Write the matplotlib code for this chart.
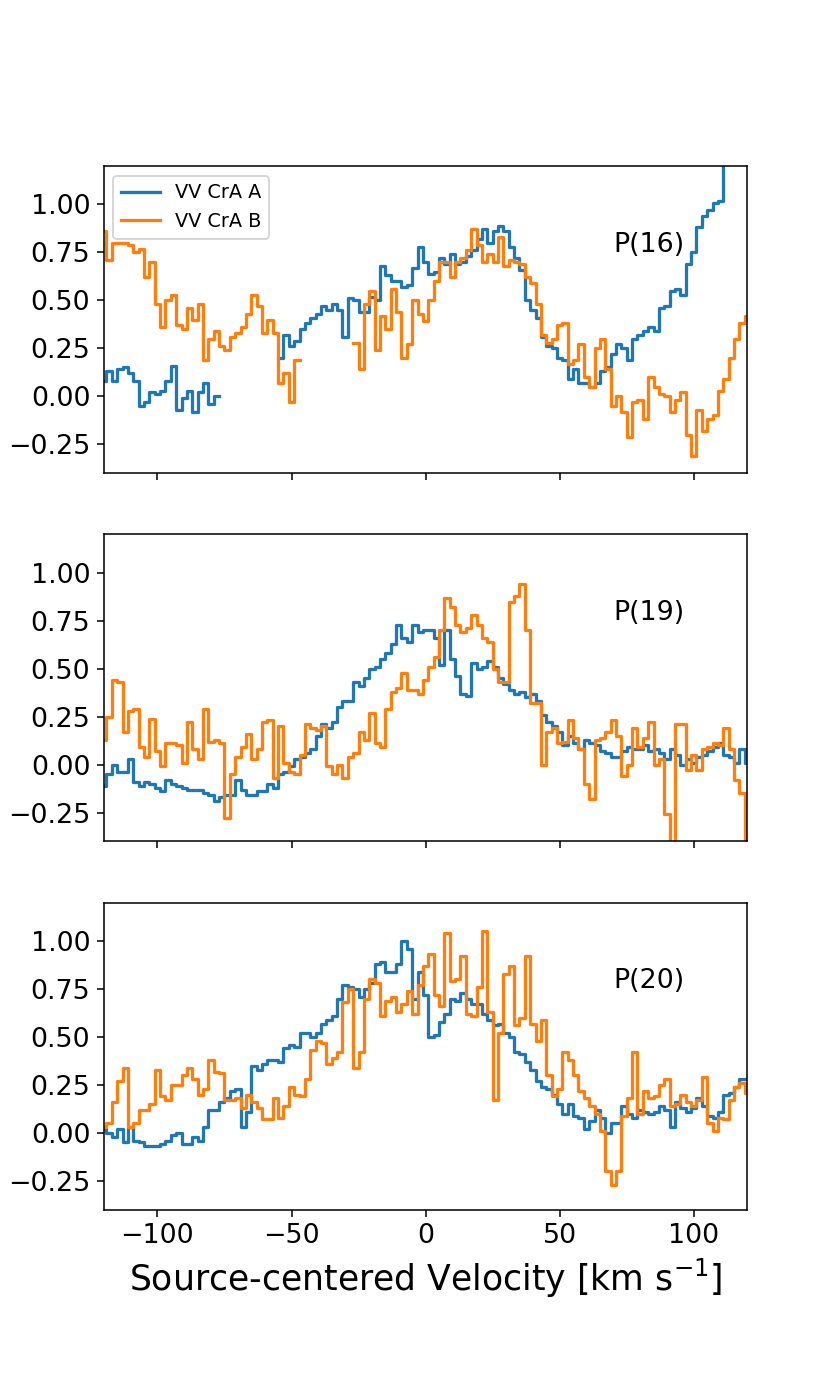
import numpy as np
import matplotlib
matplotlib.use('Agg')
import matplotlib.pyplot as plt

nan = np.nan

# velocity channels (km/s)
vel = np.arange(-120, 121, 2)

# P(16)
A16 = [0.08, 0.13, 0.08, 0.14, 0.15, 0.12, 0.08, -0.05, -0.03, 0.02, 0.01, 0.03, 0.08, 0.16, -0.07, -0.01, 0.03, -0.08, 0.02, 0.07, -0.04, 0.00,
       nan, nan, nan, nan, nan, nan, nan, nan, nan, nan, nan,
       0.20, 0.32, 0.26, 0.29, 0.35, 0.38, 0.41,
       0.43, 0.47, 0.45, 0.48, 0.45, 0.31, 0.51, 0.50, 0.44, 0.44, 0.52, 0.50, 0.68, 0.63, 0.60, 0.60, 0.57, 0.58, 0.67, 0.78,
       0.70, 0.64, 0.65, 0.72, 0.69, 0.74, 0.69, 0.70, 0.73, 0.76, 0.82, 0.87, 0.80, 0.86, 0.89, 0.86, 0.78, 0.72, 0.66, 0.50,
       0.45, 0.41, 0.31, 0.26, 0.25, 0.20, 0.19, 0.09, 0.14, 0.07, 0.07, 0.05, 0.07, 0.13, 0.15, 0.22, 0.27, 0.25, 0.19, 0.30,
       0.32, 0.34, 0.36, 0.34, 0.46, 0.47, 0.55, 0.56, 0.53, 0.69, 0.75, 0.88, 0.94, 0.97, 1.01, 1.02, 1.25, 1.35, 1.45, 1.50, 1.55]
B16 = [0.86, 0.71, 0.80, 0.80, 0.80, 0.79, 0.75, 0.77, 0.62, 0.70, 0.48, 0.36, 0.50, 0.53, 0.37, 0.35, 0.46, 0.40, 0.48, 0.19,
       0.30, 0.34, 0.26, 0.24, 0.31, 0.33, 0.36, 0.43, 0.53, 0.47, 0.33, 0.40, 0.33, 0.07, 0.12, -0.03, 0.19,
       nan, nan, nan, nan, nan, nan, nan, nan, nan, nan,
       0.28, 0.14, 0.48, 0.55, 0.24, 0.42, 0.35, 0.56, 0.44, 0.20, 0.27, 0.50, 0.43, 0.39, 0.50, 0.60, 0.70, 0.70, 0.62, 0.70,
       0.72, 0.76, 0.87, 0.79, 0.70, 0.74, 0.70, 0.83, 0.68, 0.71, 0.70, 0.69, 0.62,
       0.59, 0.48, 0.32, 0.28, 0.30, 0.37, 0.38, 0.17, 0.19, 0.27, 0.10, 0.05, 0.25, 0.30, 0.14, -0.05, 0.00, -0.08, -0.21, -0.03,
       -0.02, -0.12, 0.10, 0.05, 0.01, 0.00, -0.08, -0.02, 0.02, -0.20, -0.31, -0.07, -0.18, -0.12, -0.10, 0.03, 0.09, 0.20, 0.30, 0.38, 0.42]

# P(19)
A19 = [-0.11, -0.05, 0.00, -0.04, -0.04, 0.03, -0.09, -0.11, -0.09, -0.10, -0.12, -0.14, -0.08, -0.10, -0.11, -0.12, -0.13, -0.13, -0.13, -0.15,
       -0.16, -0.19, -0.17, -0.16, -0.16, -0.08, -0.13, -0.16, -0.16, -0.14, -0.14, -0.10, -0.12, -0.05, -0.04, -0.01, 0.03, 0.04, 0.06, 0.08,
       0.15, 0.21, 0.19, 0.22, 0.30, 0.33, 0.33, 0.43, 0.41, 0.45, 0.50, 0.51, 0.55, 0.58, 0.63, 0.73, 0.66, 0.64, 0.73, 0.69,
       0.70, 0.70, 0.66, 0.52, 0.70, 0.55, 0.46, 0.37, 0.36, 0.53, 0.50, 0.51, 0.54, 0.51, 0.45, 0.42, 0.39, 0.37, 0.38, 0.35,
       0.37, 0.33, 0.26, 0.22, 0.20, 0.17, 0.10, 0.15, 0.11, 0.08, 0.13, 0.11, 0.10, 0.07, 0.06, 0.04, 0.04, 0.07, 0.09, 0.08,
       0.08, 0.10, 0.07, 0.08, 0.06, 0.03, 0.08, 0.05, 0.00, 0.03, 0.01, 0.04, 0.05, 0.07, 0.09, 0.11, 0.05, 0.04, 0.01, 0.08, 0.01]
B19 = [0.13, 0.25, 0.44, 0.43, 0.17, 0.28, 0.29, 0.09, 0.04, 0.24, 0.07, -0.01, 0.11, 0.11, 0.10, 0.01, 0.22, 0.08, 0.03, 0.29,
       0.12, 0.13, 0.11, -0.28, -0.05, 0.04, 0.09, 0.16, 0.03, 0.08, 0.22, 0.23, -0.07, 0.20, 0.01, -0.04, -0.05, 0.05, 0.21, 0.19,
       0.18, 0.20, -0.01, -0.05, 0.00, -0.07, 0.04, 0.06, 0.17, 0.13, 0.27, 0.11, 0.09, 0.29, 0.38, 0.40, 0.48, 0.39, 0.39, 0.37,
       0.44, 0.51, 0.56, 0.70, 0.87, 0.82, 0.73, 0.69, 0.71, 0.78, 0.73, 0.66, 0.64, 0.50, 0.43, 0.43, 0.85, 0.88, 0.94, 0.70,
       0.32, 0.32, 0.00, 0.17, 0.19, 0.11, 0.12, 0.23, 0.14, 0.08, -0.10, -0.18, 0.13, 0.14, 0.17, 0.23, 0.15, -0.06, 0.00, 0.19,
       0.09, 0.14, 0.22, 0.00, 0.03, -0.26, -0.48, 0.21, 0.21, -0.03, 0.05, -0.03, 0.08, 0.09, 0.11, 0.10, 0.19, 0.08, -0.08, -0.15, -0.45]

# P(20)
A20 = [0.02, 0.00, -0.02, 0.02, -0.05, 0.03, -0.04, -0.05, -0.07, -0.07, -0.07, -0.06, -0.04, -0.01, 0.00, -0.06, -0.06, -0.02, -0.04, 0.03,
       0.12, 0.12, 0.16, 0.18, 0.22, 0.23, 0.03, 0.11, 0.35, 0.33, 0.36, 0.38, 0.38, 0.37, 0.44, 0.46, 0.45, 0.52, 0.52, 0.50,
       0.52, 0.57, 0.59, 0.61, 0.70, 0.77, 0.76, 0.75, 0.71, 0.75, 0.78, 0.88, 0.89, 0.84, 0.84, 0.88, 1.00, 0.96, 0.70, 0.84,
       0.72, 0.50, 0.51, 0.58, 0.62, 0.70, 0.69, 0.73, 0.70, 0.67, 0.67, 0.62, 0.59, 0.56, 0.57, 0.52, 0.50, 0.42, 0.41, 0.37,
       0.33, 0.27, 0.24, 0.23, 0.20, 0.15, 0.10, 0.15, 0.09, 0.08, 0.02, 0.06, 0.12, 0.08, 0.00, 0.05, 0.05, 0.14, 0.10, 0.08,
       0.12, 0.11, 0.10, 0.11, 0.14, 0.12, 0.03, 0.16, 0.13, 0.11, 0.13, 0.18, 0.14, 0.09, 0.08, 0.11, 0.20, 0.21, 0.24, 0.28, 0.28]
B20 = [0.03, 0.05, 0.16, 0.27, 0.34, 0.03, 0.05, 0.12, 0.12, 0.15, 0.33, 0.19, 0.17, 0.25, 0.25, 0.30, 0.34, 0.28, 0.20, 0.23,
       0.38, 0.32, 0.31, 0.17, 0.17, 0.18, 0.13, 0.20, 0.16, 0.13, 0.07, 0.07, 0.18, 0.08, 0.14, 0.24, 0.20, 0.19, 0.28, 0.43,
       0.48, 0.47, 0.36, 0.39, 0.42, 0.68, 0.75, 0.34, 0.42, 0.70, 0.80, 0.78, 0.61, 0.69, 0.71, 0.63, 0.67, 0.74, 0.62, 0.77,
       0.87, 0.93, 0.72, 0.66, 1.04, 0.79, 0.80, 0.92, 0.62, 0.61, 0.76, 1.05, 0.63, 0.17, 0.52, 0.83, 0.87, 0.56, 0.60, 0.92,
       0.57, 0.48, 0.59, 0.30, 0.19, 0.23, 0.42, 0.38, 0.30, 0.22, 0.18, 0.14, 0.10, 0.01, -0.20, -0.27, -0.20, 0.09, 0.18, 0.42,
       0.10, 0.22, 0.18, 0.19, 0.25, 0.28, 0.14, 0.15, 0.20, 0.16, 0.14, 0.17, 0.29, 0.05, 0.01, 0.08, 0.07, 0.17, 0.24, 0.26, 0.21]

lines = ['P(16)', 'P(19)', 'P(20)']
specA = [A16, A19, A20]
specB = [B16, B19, B20]

fig, axs = plt.subplots(3, 1, figsize=(6, 10), sharex=True)
fig.subplots_adjust(left=0.125, right=0.9, top=0.88, bottom=0.126, hspace=0.2)

for ax, name, a, b in zip(axs, lines, specA, specB):
    ax.step(vel, a, where='mid', color='C0', lw=1.7, label='VV CrA A')
    ax.step(vel, b, where='mid', color='C1', lw=1.7, label='VV CrA B')
    ax.text(70, 0.79, name, fontsize=14, ha='left', va='center')
    ax.set_xlim(-120, 120)
    ax.set_ylim(-0.4, 1.2)
    ax.set_yticks([-0.25, 0.0, 0.25, 0.5, 0.75, 1.0])
    ax.set_xticks([-100, -50, 0, 50, 100])
    ax.tick_params(labelsize=14)

axs[0].legend(loc='upper left', fontsize=10)
axs[2].set_xlabel('Source-centered Velocity [km s$^{-1}$]', fontsize=18)

fig.savefig('out.png', dpi=138.4)
